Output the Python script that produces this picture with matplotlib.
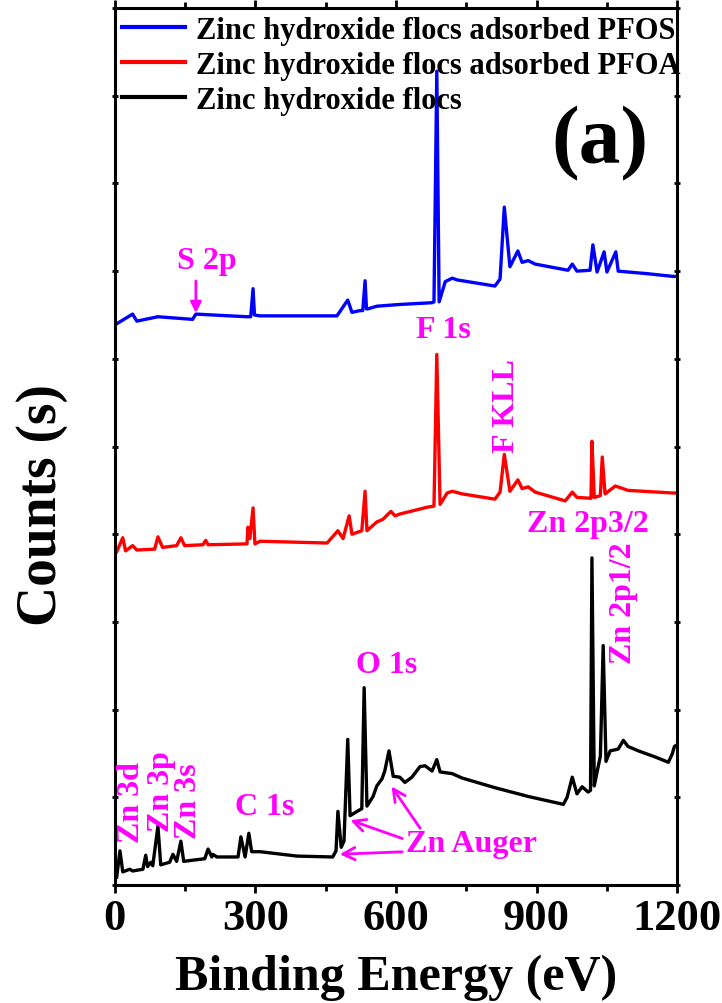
import numpy as np
import matplotlib
matplotlib.use('Agg')
import matplotlib.pyplot as plt
from matplotlib.ticker import MultipleLocator, NullFormatter

plt.rcParams['font.family'] = ['Liberation Serif', 'DejaVu Serif']
plt.rcParams['font.weight'] = 'bold'

# binding energy (eV) and counts (arbitrary, offset)
pfos_x = [4, 38, 47, 92, 166, 173, 282, 290, 295, 298, 310, 474, 497, 506, 523, 529, 534, 537,
          540, 559, 608, 677, 681, 687, 692, 705, 720, 730, 811, 822, 831, 843, 860, 869, 882, 897,
          967, 976, 986, 1014, 1020, 1029, 1044, 1050, 1069, 1074, 1138, 1191, 1200]
pfos_y = [64.0, 65.1, 64.3, 64.8, 64.5, 65.1, 64.8, 64.8, 68.0, 65.0, 64.9, 64.9, 66.7, 65.3, 65.5, 65.5, 68.9, 65.7,
          65.7, 66.0, 66.2, 66.4, 66.5, 92.8, 66.5, 68.8, 69.2, 69.0, 68.3, 69.1, 77.3, 70.5, 72.3, 71.0, 71.2, 70.8,
          70.1, 70.8, 70.0, 70.1, 73.0, 69.9, 72.2, 69.9, 72.2, 70.0, 69.7, 69.4, 69.4]

pfoa_x = [4, 17, 23, 38, 47, 85, 92, 102, 132, 141, 149, 188, 194, 199, 282, 284, 288, 295, 299, 310,
          453, 476, 487, 500, 506, 527, 534, 538, 559, 572, 589, 598, 608, 668, 681, 687, 694, 709,
          720, 741, 811, 822, 831, 843, 860, 869, 882, 897, 961, 976, 986, 1014, 1016, 1018, 1023,
          1036, 1040, 1046, 1068, 1095, 1191, 1200]
pfoa_y = [38.0, 39.6, 38.1, 38.7, 38.2, 38.3, 39.7, 38.5, 38.7, 39.6, 38.7, 38.8, 39.3, 38.8, 38.9, 40.8, 39.5, 43.0, 38.9, 39.2,
          39.0, 40.4, 39.5, 42.1, 40.0, 40.4, 44.9, 40.4, 41.4, 41.7, 42.6, 42.1, 42.3, 43.1, 43.2, 60.5, 43.4, 44.7,
          44.9, 44.6, 44.0, 44.8, 49.1, 44.9, 46.2, 45.2, 45.4, 44.8, 43.8, 44.8, 44.2, 44.1, 44.1, 50.6, 44.2,
          44.4, 48.8, 44.6, 45.5, 45.0, 44.7, 44.7]

floc_x = [4, 11, 17, 32, 38, 60, 66, 70, 77, 81, 92, 98, 117, 124, 132, 141, 147, 192, 199, 207, 209,
          218, 263, 269, 278, 286, 292, 310, 389, 465, 472, 476, 483, 489, 497, 502, 517, 527, 532,
          538, 551, 559, 570, 576, 585, 594, 608, 619, 634, 651, 662, 677, 687, 694, 720, 741, 811,
          882, 957, 965, 976, 986, 997, 1010, 1015, 1018, 1023, 1029, 1036, 1042, 1048, 1057, 1074,
          1085, 1095, 1117, 1153, 1181, 1189, 1194, 1200]
floc_y = [0.9, 3.9, 1.5, 1.8, 1.6, 1.8, 3.4, 2.1, 2.6, 2.2, 6.7, 2.3, 2.6, 3.5, 2.7, 5.0, 2.7, 3.0, 4.1, 3.2, 3.5,
          3.2, 3.2, 5.5, 3.2, 5.9, 3.8, 3.8, 3.3, 3.2, 3.9, 8.4, 4.3, 5.0, 16.6, 7.9, 8.4, 8.7, 22.5,
          9.0, 10.1, 11.3, 12.1, 13.0, 15.3, 12.4, 12.3, 11.7, 12.3, 13.5, 13.6, 13.0, 14.3, 12.9, 12.7, 12.2, 11.1,
          10.1, 9.2, 10.0, 12.3, 10.4, 11.2, 10.6, 10.8, 37.3, 11.3, 12.9, 14.7, 27.3, 14.1, 15.3, 15.5,
          16.5, 15.8, 15.3, 14.6, 14.0, 14.9, 15.8, 16.0]

series = [
    ('Zinc hydroxide flocs adsorbed PFOS', pfos_x, pfos_y, '#0000FF'),
    ('Zinc hydroxide flocs adsorbed PFOA', pfoa_x, pfoa_y, '#FF0000'),
    ('Zinc hydroxide flocs', floc_x, floc_y, '#000000'),
]

# peak labels: text, x, y, rotation
peak_labels = [
    ('S 2p', 197, 71.2, 0),
    ('F 1s', 700, 63.4, 0),
    ('F KLL', 835, 54.7, 90),
    ('Zn 2p3/2', 1010, 41.2, 0),
    ('Zn 2p1/2', 1085, 32.3, 90),
    ('O 1s', 579, 25.2, 0),
    ('C 1s', 320, 9.0, 0),
    ('Zn 3d', 36, 9.5, 90),
    ('Zn 3p', 100, 10.8, 90),
    ('Zn 3s', 157, 9.7, 90),
    ('Zn Auger', 762, 4.7, 0),
]
auger_arrows = [((619, 3.8), (474, 3.5)), ((619, 5.2), (497, 7.5)), ((655, 6.2), (587, 11.5))]

MAG = '#FF00FF'

fig = plt.figure(figsize=(7.22, 10.04), dpi=100)
ax = fig.add_axes([0.159, 0.1175, 0.779, 0.8735])

for name, xs, ys, c in series:
    ax.plot(xs, ys, color=c, lw=2.4, label=name)

for txt, x, y, rot in peak_labels:
    ax.text(x, y, txt, color=MAG, fontsize=23, fontweight='bold', rotation=rot,
            ha='center', va='center')

ax.annotate('', xy=(173, 64.9), xytext=(173, 69.2),
            arrowprops=dict(arrowstyle='-|>', color=MAG, lw=2, mutation_scale=16))
for tail, tip in auger_arrows:
    ax.annotate('', xy=tip, xytext=tail,
                arrowprops=dict(arrowstyle='->', color=MAG, lw=2, mutation_scale=22))

ax.text(0.863, 0.846, '(a)', transform=ax.transAxes, fontsize=60, fontweight='bold',
        ha='center', va='center')

ax.set_xlim(0, 1200)
ax.set_ylim(0, 100)
ax.xaxis.set_major_locator(MultipleLocator(300))
ax.xaxis.set_minor_locator(MultipleLocator(150))
ax.yaxis.set_major_locator(MultipleLocator(10))
ax.yaxis.set_major_formatter(NullFormatter())
ax.tick_params(axis='x', which='major', direction='out', length=6, width=2, labelsize=32, pad=3,
               top=True)
ax.tick_params(axis='x', which='minor', direction='out', length=4, width=2, top=True)
ax.tick_params(axis='y', which='major', direction='inout', length=4, width=2, left=True, right=True)
for s in ax.spines.values():
    s.set_linewidth(2.2)

ax.set_xlabel('Binding Energy (eV)', fontsize=36, fontweight='bold')
ax.xaxis.label.set_va('center')
ax.xaxis.set_label_coords(0.5, -0.105)
ax.set_ylabel('Counts (s)', fontsize=40, fontweight='bold')
ax.yaxis.label.set_va('center')
ax.yaxis.set_label_coords(-0.13, 0.434)

leg = ax.legend(loc='upper left', bbox_to_anchor=(0, 1), borderaxespad=0, borderpad=0.25,
                frameon=False, fontsize=22, handlelength=2.05, handletextpad=0.35, labelspacing=0.2)
for h in leg.get_lines():
    h.set_linewidth(3)

fig.savefig('out.png', dpi=100)
